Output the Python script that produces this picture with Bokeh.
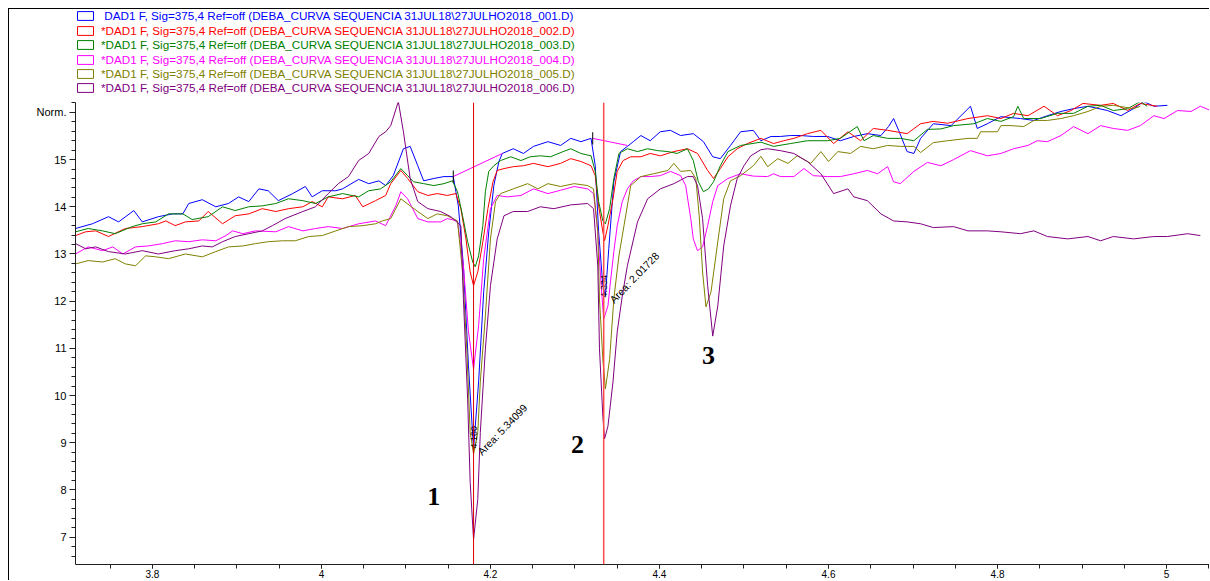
from bokeh.plotting import figure
from bokeh.layouts import column
from bokeh.models import Range1d, FixedTicker, Span, Legend, LegendItem, Label
from bokeh.core.properties import value
from bokeh.embed import file_html
from bokeh.resources import INLINE
import math

# ---------------- data ----------------
legend_labels = [
    "\u00a0DAD1 F, Sig=375,4 Ref=off (DEBA_CURVA SEQUENCIA 31JUL18\\27JULHO2018_001.D)",
    "*DAD1 F, Sig=375,4 Ref=off (DEBA_CURVA SEQUENCIA 31JUL18\\27JULHO2018_002.D)",
    "*DAD1 F, Sig=375,4 Ref=off (DEBA_CURVA SEQUENCIA 31JUL18\\27JULHO2018_003.D)",
    "*DAD1 F, Sig=375,4 Ref=off (DEBA_CURVA SEQUENCIA 31JUL18\\27JULHO2018_004.D)",
    "*DAD1 F, Sig=375,4 Ref=off (DEBA_CURVA SEQUENCIA 31JUL18\\27JULHO2018_005.D)",
    "*DAD1 F, Sig=375,4 Ref=off (DEBA_CURVA SEQUENCIA 31JUL18\\27JULHO2018_006.D)",
]
colors = ["#0000ff", "#ff0000", "#008000", "#ff00ff", "#808000", "#800080"]

blue = [(3.709,13.54),(3.729,13.64),(3.748,13.79),(3.760,13.68),(3.778,13.92),(3.788,13.68),(3.807,13.79),(3.824,13.85),(3.836,13.85),(3.843,14.07),(3.859,14.15),(3.875,14.00),(3.890,14.07),(3.902,14.21),(3.914,14.11),(3.926,14.38),(3.937,14.34),(3.949,14.13),(3.966,14.28),(3.981,14.43),(3.989,14.21),(4.001,14.34),(4.017,14.34),(4.025,14.38),(4.044,14.58),(4.056,14.49),(4.068,14.55),(4.076,14.45),(4.085,14.66),(4.097,15.23),(4.105,15.28),(4.114,14.87),(4.121,14.55),(4.133,14.60),(4.145,14.64),(4.156,14.64),(4.162,14.02),(4.168,12.75),(4.174,10.63),(4.180,8.86),(4.186,10.29),(4.192,12.20),(4.198,13.47),(4.204,14.45),(4.210,14.96),(4.214,15.13),(4.227,15.23),(4.239,15.13),(4.251,15.28),(4.268,15.38),(4.283,15.30),(4.295,15.45),(4.307,15.38),(4.319,15.45),(4.324,14.87),(4.328,13.47),(4.333,12.33),(4.336,12.11),(4.340,13.11),(4.346,14.53),(4.354,15.17),(4.362,15.28),(4.369,15.38),(4.378,15.51),(4.389,15.40),(4.401,15.59),(4.413,15.62),(4.425,15.51),(4.440,15.55),(4.452,15.38),(4.463,15.06),(4.472,15.02),(4.484,15.30),(4.496,15.59),(4.511,15.62),(4.520,15.40),(4.532,15.49),(4.543,15.49),(4.555,15.51),(4.567,15.51),(4.582,15.49),(4.599,15.49),(4.614,15.40),(4.630,15.49),(4.646,15.55),(4.662,15.51),(4.671,15.70),(4.677,15.87),(4.683,15.62),(4.693,15.17),(4.701,15.13),(4.709,15.45),(4.724,15.76),(4.745,15.72),(4.768,16.13),(4.776,15.66),(4.788,15.76),(4.804,15.91),(4.827,15.87),(4.843,15.83),(4.859,15.93),(4.875,16.02),(4.890,16.08),(4.907,16.13),(4.930,16.04),(4.946,15.93),(4.961,16.08),(4.973,16.23),(4.985,16.13),(5.001,16.15)]

red = [(3.709,13.39),(3.721,13.47),(3.733,13.49),(3.748,13.37),(3.768,13.54),(3.788,13.58),(3.807,13.64),(3.816,13.70),(3.827,13.60),(3.839,13.68),(3.855,13.70),(3.866,13.90),(3.883,13.64),(3.898,13.81),(3.914,13.85),(3.930,13.96),(3.946,13.90),(3.961,13.96),(3.978,14.00),(3.989,14.11),(4.001,14.00),(4.008,14.21),(4.025,14.17),(4.040,14.24),(4.049,14.00),(4.064,14.13),(4.076,14.24),(4.082,14.49),(4.094,14.77),(4.102,14.60),(4.114,14.32),(4.126,14.24),(4.137,14.28),(4.149,14.24),(4.159,14.28),(4.165,13.96),(4.171,13.32),(4.176,12.62),(4.180,12.33),(4.185,12.62),(4.191,13.26),(4.197,13.96),(4.203,14.53),(4.208,14.77),(4.216,14.81),(4.227,14.85),(4.239,14.87),(4.251,14.92),(4.268,14.85),(4.283,14.92),(4.295,15.02),(4.307,14.96),(4.319,14.87),(4.324,14.66),(4.328,14.02),(4.333,13.47),(4.335,13.28),(4.339,13.60),(4.345,14.17),(4.350,14.75),(4.357,14.98),(4.366,15.06),(4.378,15.06),(4.389,15.13),(4.401,15.08),(4.417,15.17),(4.433,15.23),(4.445,15.13),(4.457,14.77),(4.464,14.60),(4.472,14.81),(4.481,15.06),(4.492,15.23),(4.504,15.34),(4.520,15.45),(4.535,15.34),(4.547,15.40),(4.559,15.45),(4.575,15.55),(4.591,15.62),(4.606,15.34),(4.623,15.59),(4.638,15.40),(4.653,15.66),(4.670,15.62),(4.693,15.55),(4.709,15.76),(4.724,15.81),(4.741,15.77),(4.765,15.87),(4.788,15.93),(4.804,15.87),(4.819,15.98),(4.836,15.93),(4.855,16.13),(4.871,15.93),(4.887,16.04),(4.901,16.19),(4.922,16.15),(4.937,16.19),(4.954,16.04),(4.969,16.19),(4.989,16.13)]

green = [(3.709,13.47),(3.724,13.54),(3.741,13.49),(3.756,13.43),(3.776,13.58),(3.788,13.64),(3.804,13.68),(3.819,13.85),(3.836,13.85),(3.847,13.73),(3.866,13.79),(3.883,14.00),(3.898,13.92),(3.914,14.00),(3.930,14.02),(3.946,14.07),(3.961,14.17),(3.978,14.13),(3.993,14.07),(4.008,14.21),(4.025,14.28),(4.044,14.21),(4.056,14.34),(4.070,14.38),(4.082,14.53),(4.094,14.81),(4.102,14.66),(4.109,14.53),(4.121,14.49),(4.133,14.45),(4.145,14.49),(4.155,14.55),(4.161,14.32),(4.167,13.81),(4.173,13.26),(4.179,12.83),(4.182,12.73),(4.186,12.96),(4.191,13.60),(4.194,14.32),(4.198,14.75),(4.204,14.87),(4.212,14.98),(4.224,15.06),(4.236,14.98),(4.247,15.06),(4.259,15.08),(4.271,15.06),(4.286,15.17),(4.295,15.23),(4.307,15.13),(4.319,15.08),(4.324,14.75),(4.328,14.11),(4.333,13.70),(4.336,13.64),(4.341,13.96),(4.346,14.60),(4.352,15.13),(4.362,15.23),(4.374,15.17),(4.386,15.23),(4.398,15.19),(4.410,15.17),(4.421,15.13),(4.433,15.23),(4.440,14.98),(4.446,14.53),(4.452,14.32),(4.458,14.38),(4.464,14.53),(4.472,14.87),(4.481,15.17),(4.496,15.30),(4.520,15.37),(4.535,15.28),(4.555,15.34),(4.575,15.40),(4.599,15.40),(4.614,15.45),(4.634,15.70),(4.642,15.40),(4.653,15.51),(4.670,15.45),(4.685,15.45),(4.701,15.40),(4.717,15.64),(4.733,15.65),(4.748,15.72),(4.772,15.76),(4.788,15.87),(4.804,15.81),(4.819,15.91),(4.824,16.13),(4.831,15.87),(4.851,15.87),(4.871,15.98),(4.890,15.98),(4.907,16.13),(4.922,16.15),(4.937,16.04),(4.954,16.08),(4.969,16.23),(4.977,16.13)]

magenta = [(3.709,13.00),(3.724,13.15),(3.741,13.07),(3.753,13.15),(3.765,13.00),(3.780,13.15),(3.795,13.17),(3.812,13.22),(3.827,13.28),(3.843,13.26),(3.859,13.30),(3.875,13.28),(3.887,13.39),(3.895,13.49),(3.907,13.43),(3.922,13.49),(3.946,13.47),(3.961,13.58),(3.978,13.49),(3.993,13.54),(4.008,13.58),(4.025,13.54),(4.044,13.64),(4.064,13.70),(4.076,13.60),(4.088,14.02),(4.094,14.32),(4.102,14.17),(4.114,13.75),(4.126,13.68),(4.141,13.68),(4.149,13.75),(4.161,13.70),(4.168,12.75),(4.174,11.35),(4.180,10.56),(4.186,11.48),(4.192,12.90),(4.200,13.96),(4.208,14.24),(4.220,14.21),(4.236,14.24),(4.251,14.38),(4.268,14.28),(4.283,14.35),(4.299,14.43),(4.315,14.38),(4.322,14.28),(4.327,13.47),(4.331,12.33),(4.334,11.62),(4.339,11.90),(4.342,12.41),(4.346,13.05),(4.350,13.60),(4.356,14.11),(4.362,14.38),(4.369,14.55),(4.378,14.64),(4.389,14.64),(4.401,14.66),(4.413,14.75),(4.425,14.66),(4.431,14.45),(4.437,13.75),(4.440,13.32),(4.445,13.07),(4.451,13.15),(4.457,13.60),(4.463,14.11),(4.469,14.45),(4.481,14.60),(4.496,14.70),(4.511,14.65),(4.528,14.64),(4.535,14.70),(4.543,14.64),(4.559,14.64),(4.571,14.81),(4.582,14.66),(4.599,14.64),(4.614,14.64),(4.630,14.70),(4.646,14.77),(4.658,14.70),(4.670,14.85),(4.677,14.53),(4.685,14.49),(4.701,14.75),(4.717,14.94),(4.733,14.87),(4.748,15.00),(4.768,15.19),(4.788,15.08),(4.804,15.13),(4.819,15.23),(4.836,15.30),(4.847,15.40),(4.859,15.38),(4.875,15.51),(4.890,15.70),(4.907,15.55),(4.922,15.72),(4.937,15.66),(4.954,15.62),(4.969,15.72),(4.985,15.93),(4.997,15.87),(5.013,16.04),(5.029,16.02),(5.040,16.13),(5.052,16.04)]

olive = [(3.709,12.79),(3.724,12.86),(3.741,12.83),(3.756,12.90),(3.768,12.79),(3.780,12.75),(3.792,12.96),(3.804,12.94),(3.819,12.90),(3.839,13.00),(3.859,12.94),(3.875,13.05),(3.890,13.15),(3.907,13.17),(3.922,13.22),(3.937,13.26),(3.954,13.28),(3.969,13.28),(3.985,13.37),(4.001,13.39),(4.017,13.49),(4.032,13.58),(4.049,13.60),(4.064,13.64),(4.072,13.70),(4.082,13.75),(4.094,14.17),(4.105,14.02),(4.114,13.90),(4.126,13.75),(4.137,13.85),(4.149,13.81),(4.161,13.70),(4.167,12.62),(4.172,10.99),(4.176,9.22),(4.180,8.76),(4.185,9.22),(4.188,10.29),(4.194,11.69),(4.200,13.32),(4.206,14.11),(4.212,14.28),(4.227,14.38),(4.244,14.49),(4.256,14.38),(4.268,14.49),(4.283,14.43),(4.299,14.49),(4.315,14.45),(4.322,14.38),(4.327,13.47),(4.329,12.05),(4.333,10.77),(4.336,10.14),(4.341,10.77),(4.346,12.05),(4.352,12.96),(4.358,13.60),(4.366,14.45),(4.378,14.64),(4.393,14.70),(4.410,14.77),(4.417,14.92),(4.425,14.75),(4.437,14.77),(4.443,14.60),(4.447,13.81),(4.451,12.62),(4.455,11.88),(4.461,12.20),(4.469,13.26),(4.476,14.17),(4.484,14.55),(4.496,14.66),(4.511,14.87),(4.520,15.07),(4.528,14.85),(4.540,15.02),(4.552,14.92),(4.563,15.08),(4.579,14.92),(4.591,15.17),(4.600,14.96),(4.611,15.17),(4.626,15.13),(4.638,15.28),(4.653,15.23),(4.670,15.30),(4.685,15.28),(4.701,15.28),(4.709,15.15),(4.724,15.36),(4.741,15.40),(4.765,15.45),(4.776,15.45),(4.780,15.59),(4.800,15.59),(4.804,15.72),(4.816,15.72),(4.831,15.70),(4.843,15.83),(4.859,15.83),(4.875,15.87),(4.890,15.93),(4.907,16.02),(4.922,16.13),(4.937,16.15),(4.961,16.08),(4.969,16.13)]

purple = [(3.709,13.22),(3.721,13.11),(3.733,13.15),(3.748,13.05),(3.768,13.00),(3.788,13.07),(3.807,13.00),(3.827,13.07),(3.843,13.11),(3.859,13.17),(3.871,13.15),(3.883,13.26),(3.898,13.37),(3.914,13.43),(3.930,13.49),(3.942,13.60),(3.957,13.75),(3.978,13.90),(3.993,14.00),(4.008,14.28),(4.020,14.49),(4.032,14.64),(4.044,14.98),(4.056,15.13),(4.068,15.49),(4.076,15.59),(4.082,15.72),(4.091,16.23),(4.097,15.59),(4.105,14.60),(4.114,14.11),(4.126,13.96),(4.141,13.90),(4.153,13.79),(4.165,13.60),(4.168,12.05),(4.173,9.93),(4.176,8.16),(4.180,6.95),(4.185,7.80),(4.188,9.22),(4.194,10.99),(4.200,12.33),(4.208,13.32),(4.216,13.81),(4.227,13.90),(4.244,13.90),(4.259,14.00),(4.275,13.96),(4.295,14.04),(4.315,14.07),(4.322,13.96),(4.327,12.75),(4.329,10.99),(4.333,9.56),(4.335,9.08),(4.339,9.35),(4.345,10.29),(4.350,11.35),(4.356,12.11),(4.362,12.75),(4.374,13.68),(4.386,14.17),(4.401,14.38),(4.417,14.49),(4.433,14.64),(4.440,14.64),(4.445,14.45),(4.451,13.75),(4.457,12.33),(4.463,11.26),(4.469,11.90),(4.476,13.17),(4.484,14.02),(4.492,14.60),(4.500,14.87),(4.508,15.08),(4.520,15.21),(4.528,15.23),(4.543,15.19),(4.559,15.13),(4.575,14.96),(4.591,14.70),(4.606,14.28),(4.623,14.38),(4.630,14.21),(4.646,14.13),(4.662,13.85),(4.677,13.70),(4.693,13.68),(4.709,13.64),(4.724,13.56),(4.748,13.58),(4.765,13.49),(4.788,13.49),(4.804,13.47),(4.827,13.43),(4.843,13.49),(4.859,13.37),(4.883,13.32),(4.907,13.37),(4.922,13.28),(4.937,13.37),(4.961,13.32),(4.985,13.37),(5.001,13.37),(5.025,13.43),(5.040,13.39)]

series = [blue, red, green, magenta, olive, purple]

# integration results / markers
peak_rt = [4.180, 4.334]
peak_rt_text = ["4.180", "4.334"]
peak_rt_y = [8.88, 12.08]
peak_area_text = ["Area: 5.34099", "Area: 2.01728"]
peak_area_x = [4.187, 4.343]
peak_area_y = [8.78, 12.00]
base_t0 = [4.156, 4.321]
base_v0 = [14.64, 15.45]
base_t1 = [4.214, 4.362]
base_v1 = [15.13, 15.30]

peak_num = ["1", "2", "3"]
peak_num_x = [4.133, 4.303, 4.458]
peak_num_y = [7.87, 8.97, 10.84]

x_ticks = [3.8, 4.0, 4.2, 4.4, 4.6, 4.8, 5.0]
y_ticks = [7, 8, 9, 10, 11, 12, 13, 14, 15, 16]

# ---------------- legend strip (top) ----------------
W = 1201
TOP_H = 94
top = figure(width=W, height=TOP_H, output_backend="svg", toolbar_location=None,
             x_range=Range1d(0, 1), y_range=Range1d(0, 1),
             x_axis_location=None, y_axis_location=None,
             min_border=0, margin=(8, 0, 0, 8),
             styles={"border-left": "1px solid #000", "border-top": "1px solid #000"})
top.outline_line_color = None
top.grid.visible = False

row_centres = [6, 21, 35, 50, 64, 78]   # px from top of strip
ROW_H = 14
nan = float("nan")
for lab, c, yc in zip(legend_labels, colors, row_centres):
    # legend proxy glyph (NaN data: nothing drawn, only its legend box)
    r = top.quad(left=[nan], right=[nan], top=[nan], bottom=[nan],
                 fill_alpha=0, line_color=c, line_width=1)
    leg = Legend(items=[LegendItem(label=lab, renderers=[r])],
                 location=(0, TOP_H - (yc + ROW_H // 2)),
                 glyph_width=20, glyph_height=11, label_height=ROW_H,
                 spacing=0, padding=0, margin=0, label_standoff=6,
                 label_text_font="Liberation Sans", label_text_font_size="11.7px",
                 label_text_color=c, background_fill_alpha=0, border_line_color=None)
    top.add_layout(leg, "center")

# ---------------- chart ----------------
H = 478
BOTTOM, LEFT = 16, 66
p = figure(width=W, height=H, output_backend="svg", toolbar_location=None,
           x_range=Range1d(3.709, 5.052), y_range=Range1d(6.42, 16.21),
           min_border_left=LEFT, min_border_right=0, min_border_top=0,
           min_border_bottom=BOTTOM, margin=(0, 0, 0, 8),
           styles={"border-left": "1px solid #000"})
p.outline_line_color = None
p.grid.visible = False

for pts, c in zip(series, colors):
    xs = [a for a, b in pts]
    ys = [b for a, b in pts]
    p.line(xs, ys, line_color=c, line_width=1)

# integration baselines
p.segment(x0=base_t0, y0=base_v0, x1=base_t1, y1=base_v1, line_color="#ff00ff", line_width=1)
p.segment(x0=base_t0, y0=[v - 0.13 for v in base_v0], x1=base_t0,
          y1=[v + 0.13 for v in base_v0], line_color="black", line_width=1)

# retention-time markers
p.add_layout(Span(location=peak_rt[0], dimension="height", line_color="#e00000", line_width=1))
p.add_layout(Span(location=peak_rt[1], dimension="height", line_color="#ff4a4a", line_width=1.5))

# annotations
p.text(x=peak_rt, y=peak_rt_y, text=peak_rt_text, angle=math.pi / 2,
       text_font=value("Liberation Sans"), text_font_size="9px", text_color="black",
       text_align="left", text_baseline="middle")
p.text(x=peak_area_x, y=peak_area_y, text=peak_area_text, angle=math.radians(46),
       text_font=value("Liberation Sans"), text_font_size="10.5px", text_color="black",
       text_align="left", text_baseline="middle")
p.text(x=peak_num_x, y=peak_num_y, text=peak_num, text_font=value("Liberation Serif"),
       text_font_size="26px", text_font_style="bold", text_color="black",
       text_align="center", text_baseline="middle")

# axes
xa = p.xaxis[0]
xa.ticker = FixedTicker(ticks=x_ticks, minor_ticks=[round(3.75 + 0.05 * i, 2) for i in range(27)])
xa.major_label_overrides = {4.0: "4", 5.0: "5"}
xa.major_tick_out = 4
xa.major_tick_in = 0
xa.minor_tick_out = 4
xa.minor_tick_in = 0
xa.major_label_standoff = 1
xa.major_label_text_font = "Liberation Sans"
xa.major_label_text_font_size = "10px"
xa.major_label_text_color = "black"
xa.axis_line_color = "#202020"
xa.major_tick_line_color = "#202020"
xa.minor_tick_line_color = "#202020"

ya = p.yaxis[0]
ya.ticker = FixedTicker(ticks=y_ticks, minor_ticks=[round(6.4 + 0.2 * i, 1) for i in range(50)])
ya.major_label_overrides = {16: "Norm."}
ya.major_tick_out = 6
ya.major_tick_in = 0
ya.minor_tick_out = 4
ya.minor_tick_in = 0
ya.major_label_standoff = 3
ya.major_label_text_font = "Liberation Sans"
ya.major_label_text_font_size = "11px"
ya.major_label_text_color = "black"
ya.axis_line_color = "#202020"
ya.major_tick_line_color = "#202020"
ya.minor_tick_line_color = "#202020"

p.add_layout(Label(x=5.031, y=6.42, y_offset=-6, text="min", text_font="Liberation Sans",
                   text_font_size="10px", text_baseline="top", text_align="left"))

layout = column(top, p, spacing=0)
open("out.html", "w").write(file_html(layout, INLINE))
